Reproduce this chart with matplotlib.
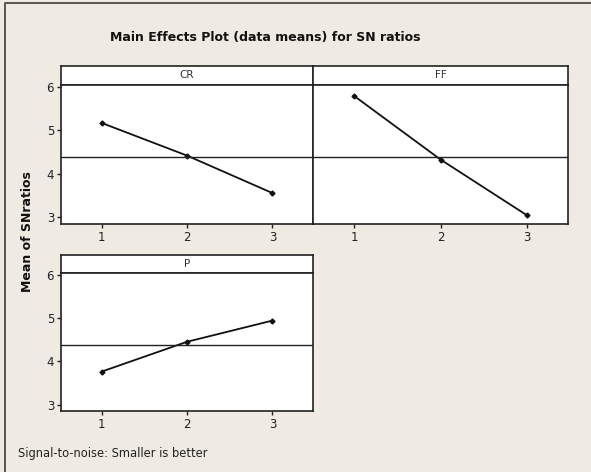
import matplotlib.pyplot as plt
from matplotlib.lines import Line2D
import numpy as np

# Data
levels = [1, 2, 3]
cr_means = [5.17, 4.42, 3.56]
ff_means = [5.79, 4.33, 3.05]
p_means = [3.76, 4.45, 4.94]
factor_names = ["CR", "FF", "P"]
y_ticks = [3, 4, 5, 6]

grand_mean = np.mean(cr_means + ff_means + p_means)

W, H = 591, 472
BG = "#efebe2"
plt.rcParams["font.family"] = ["DejaVu Sans"]

fig = plt.figure(figsize=(W / 100, H / 100), dpi=100, facecolor=BG)

# outer frame: only the left and top edges are visible in the crop
fig.lines.append(Line2D([5 / W, 5 / W, 1], [0, 1 - 3 / H, 1 - 3 / H],
                        transform=fig.transFigure, color="#555555", linewidth=1.4))


def px_axes(left, top, right, bottom):
    return fig.add_axes([left / W, 1 - bottom / H, (right - left) / W, (bottom - top) / H])


def panel(left, right, strip_top, strip_bottom, bottom, values, name, show_y):
    strip = px_axes(left, strip_top, right, strip_bottom)
    strip.set_facecolor("white")
    strip.set_xticks([])
    strip.set_yticks([])
    strip.text(0.5, 0.5, name, ha="center", va="center", fontsize=7.5, color="#333333",
               transform=strip.transAxes)
    for s in strip.spines.values():
        s.set_linewidth(1.2)
        s.set_color("#222222")

    ax = px_axes(left, strip_bottom, right, bottom)
    ax.set_facecolor("white")
    ax.plot(levels, values, color="#111111", linewidth=1.3, marker="D", markersize=2.5)
    ax.axhline(grand_mean, color="#222222", linewidth=1.0)
    ax.set_xlim(0.525, 3.475)
    ax.set_ylim(2.85, 6.04)
    ax.set_xticks(levels)
    ax.set_yticks(y_ticks)
    ax.tick_params(axis="both", direction="out", length=3, width=1, labelsize=8.5,
                   colors="#222222", pad=2)
    if not show_y:
        ax.tick_params(axis="y", left=False, labelleft=False)
    for s in ax.spines.values():
        s.set_linewidth(1.2)
        s.set_color("#222222")
    return ax


panel(61, 313, 66, 85, 224, cr_means, factor_names[0], True)
panel(313, 568, 66, 85, 224, ff_means, factor_names[1], False)
panel(61, 313, 255, 273, 411, p_means, factor_names[2], True)

fig.text(265 / W, 1 - 37 / H, "Main Effects Plot (data means) for SN ratios",
         ha="center", va="center", fontsize=9, fontweight="bold", color="#111111")
fig.text(28 / W, 1 - 232 / H, "Mean of SNratios", ha="center", va="center",
         rotation=90, fontsize=9, fontweight="bold", color="#111111")
fig.text(18 / W, 1 - 453 / H, "Signal-to-noise: Smaller is better",
         ha="left", va="center", fontsize=8.3, color="#222222")

fig.savefig("out.png", dpi=100, facecolor=BG)
